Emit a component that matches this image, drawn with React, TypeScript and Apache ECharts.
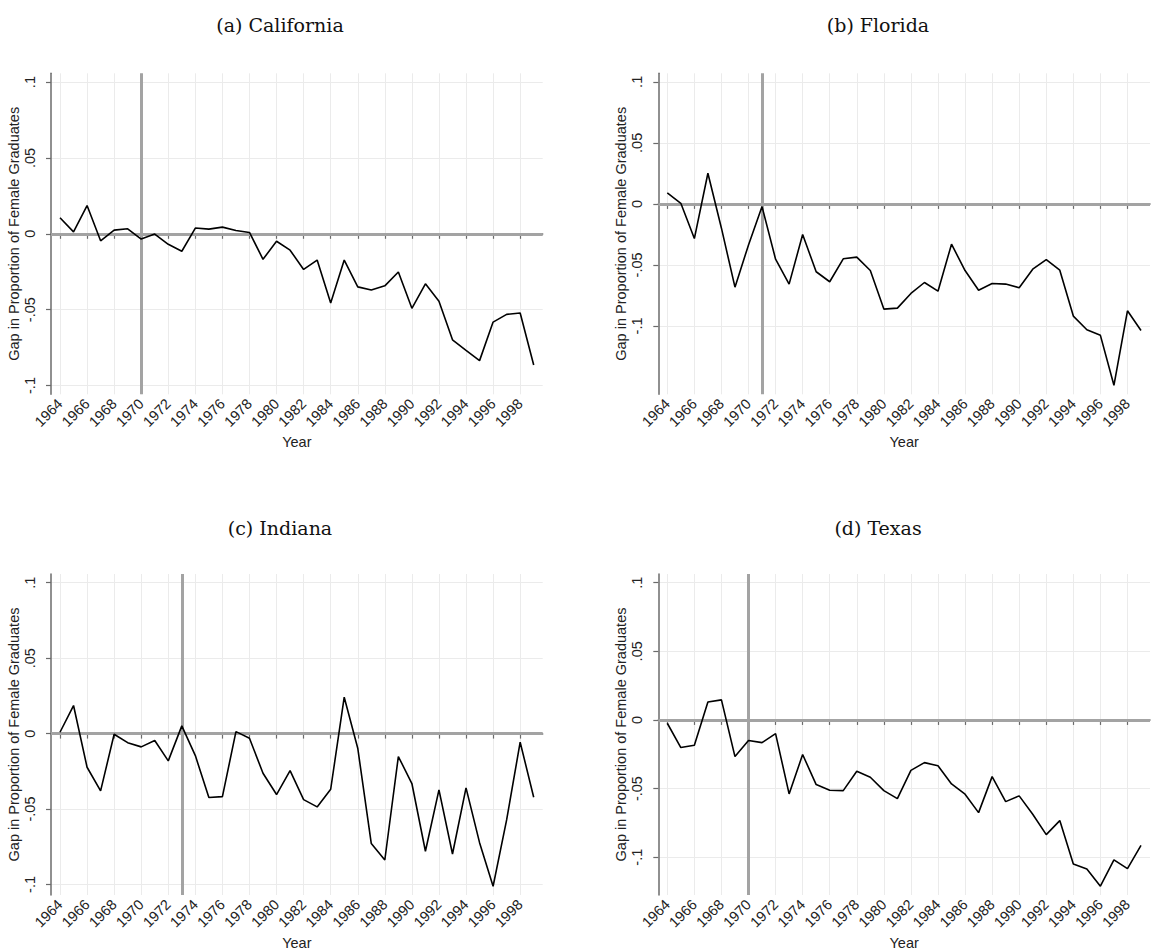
import React, { useEffect, useRef } from "react";
import * as echarts from "echarts";

const years = [
  1964, 1965, 1966, 1967, 1968, 1969, 1970, 1971, 1972, 1973, 1974, 1975,
  1976, 1977, 1978, 1979, 1980, 1981, 1982, 1983, 1984, 1985, 1986, 1987,
  1988, 1989, 1990, 1991, 1992, 1993, 1994, 1995, 1996, 1997, 1998, 1999,
];
const yearTicks = [
  1964, 1966, 1968, 1970, 1972, 1974, 1976, 1978, 1980, 1982, 1984, 1986,
  1988, 1990, 1992, 1994, 1996, 1998,
];
const gapTicks = [-0.1, -0.05, 0, 0.05, 0.1];
const gapTickLabels = ["-.1", "-.05", "0", ".05", ".1"];

const californiaGap = [
  0.0106, 0.0013, 0.0186, -0.0046, 0.0024, 0.0033, -0.0035, -0.0002, -0.0069,
  -0.0115, 0.0038, 0.0031, 0.0044, 0.0022, 0.0009, -0.0168, -0.0049, -0.0108,
  -0.0235, -0.0173, -0.0456, -0.0173, -0.035, -0.037, -0.0343, -0.0252,
  -0.0491, -0.033, -0.0445, -0.0699, -0.0768, -0.0836, -0.0582, -0.0531,
  -0.0522, -0.0865,
];
const floridaGap = [
  0.009, 0.0005, -0.0284, 0.0251, -0.0199, -0.0682, -0.0336, -0.0022, -0.0453,
  -0.0657, -0.0251, -0.0556, -0.0638, -0.045, -0.0436, -0.0546, -0.0862,
  -0.0854, -0.0734, -0.0644, -0.0715, -0.033, -0.0546, -0.0707, -0.0652,
  -0.0657, -0.0687, -0.0535, -0.0456, -0.0543, -0.0919, -0.1031, -0.1077,
  -0.1486, -0.0876, -0.1037,
];
const indianaGap = [
  0.0009, 0.0186, -0.0223, -0.038, -0.0004, -0.006, -0.0088, -0.0046, -0.0181,
  0.0051, -0.0146, -0.0424, -0.0418, 0.0013, -0.0031, -0.0263, -0.0404,
  -0.0245, -0.0438, -0.0486, -0.0369, 0.0241, -0.0097, -0.0729, -0.0838,
  -0.0152, -0.0331, -0.078, -0.0373, -0.0798, -0.036, -0.0723, -0.1012,
  -0.0572, -0.0057, -0.0422,
];
const texasGap = [
  -0.0024, -0.0201, -0.0184, 0.0131, 0.0146, -0.0267, -0.015, -0.0165, -0.01,
  -0.0539, -0.0252, -0.0471, -0.0512, -0.0515, -0.0374, -0.0417, -0.0515,
  -0.0573, -0.0367, -0.0311, -0.0333, -0.0466, -0.0541, -0.0675, -0.0413,
  -0.0595, -0.0553, -0.0687, -0.0835, -0.0733, -0.1049, -0.1085, -0.1211,
  -0.1019, -0.1083, -0.0913,
];

const panelTitles = ["(a) California", "(b) Florida", "(c) Indiana", "(d) Texas"];
const panelSeries = [californiaGap, floridaGap, indianaGap, texasGap];
const treatmentYears = [1970, 1971, 1973, 1970];
const yAxisTitle = "Gap in Proportion of Female Graduates";
const xAxisTitle = "Year";

// layout
const panelGrids = [
  { left: 51, top: 73.3, width: 491.7, height: 321 },
  { left: 658.3, top: 73.3, width: 491.7, height: 321 },
  { left: 51, top: 574, width: 491.7, height: 321.7 },
  { left: 658.3, top: 574, width: 491.7, height: 321.7 },
];
const panelYRange = [
  [-0.1058, 0.1058],
  [-0.156, 0.107],
  [-0.107, 0.1058],
  [-0.1275, 0.1063],
];
const titlePos = [
  [280, 25],
  [878, 25],
  [280, 528],
  [878, 528],
];

const SANS = "'Liberation Sans', Arial, sans-serif";
const SERIF = "'DejaVu Serif', serif";
const AXIS_COLOR = "#6b6b6b";
const GRID_COLOR = "#ebebeb";
const REF_COLOR = "#a3a3a3";

export default function App() {
  const ref = useRef<HTMLDivElement>(null);
  useEffect(() => {
    if (!ref.current) return;
    const chart = echarts.init(ref.current, null, { renderer: "svg" });
    const option: any = {
      animation: false,
      backgroundColor: "#ffffff",
      grid: panelGrids.map((g) => ({ ...g, containLabel: false })),
      xAxis: panelGrids.map((_, i) => ({
        type: "value",
        gridIndex: i,
        min: 1963.335,
        max: 1999.665,
        name: xAxisTitle,
        nameLocation: "middle",
        nameGap: 40,
        nameTextStyle: { fontFamily: SANS, fontSize: 14.5, color: "#222" },
        axisLine: { show: true, lineStyle: { color: AXIS_COLOR, width: 1.5 } },
        axisTick: {
          show: true,
          length: 5,
          customValues: yearTicks,
          lineStyle: { color: AXIS_COLOR, width: 1.2 },
        },
        axisLabel: {
          customValues: yearTicks,
          rotate: 45,
          margin: 7,
          fontFamily: SANS,
          fontSize: 14.5,
          color: "#222",
          formatter: (v: number) => String(v),
        },
        splitLine: { show: true, lineStyle: { color: GRID_COLOR, width: 1 } },
      })),
      yAxis: panelGrids.map((_, i) => ({
        type: "value",
        gridIndex: i,
        min: panelYRange[i][0],
        max: panelYRange[i][1],
        name: yAxisTitle,
        nameLocation: "middle",
        nameGap: 25,
        nameTextStyle: { fontFamily: SANS, fontSize: 14.5, color: "#222" },
        axisLine: { show: true, lineStyle: { color: AXIS_COLOR, width: 1.5 } },
        axisTick: {
          show: true,
          length: 5,
          customValues: gapTicks,
          lineStyle: { color: AXIS_COLOR, width: 1.2 },
        },
        axisLabel: {
          customValues: gapTicks,
          rotate: 90,
          margin: 14,
          fontFamily: SANS,
          fontSize: 14.5,
          color: "#222",
          formatter: (v: number) => {
            const k = gapTicks.findIndex((t) => Math.abs(t - v) < 1e-9);
            return k >= 0 ? gapTickLabels[k] : "";
          },
        },
        splitLine: { show: true, lineStyle: { color: GRID_COLOR, width: 1 } },
      })),
      series: panelSeries.map((vals, i) => ({
        type: "line",
        xAxisIndex: i,
        yAxisIndex: i,
        data: years.map((y, k) => [y, vals[k]]),
        showSymbol: false,
        symbol: "none",
        lineStyle: { color: "#000", width: 1.6 },
        z: 3,
        markLine: {
          silent: true,
          symbol: ["none", "none"],
          label: { show: false },
          lineStyle: { color: REF_COLOR, width: 3, type: "solid" },
          z: 2,
          data: [{ yAxis: 0 }, { xAxis: treatmentYears[i] }],
        },
      })),
      graphic: panelTitles.map((t, i) => ({
        type: "text",
        x: titlePos[i][0],
        y: titlePos[i][1],
        style: {
          text: t,
          fontFamily: SERIF,
          fontSize: 19,
          fill: "#111",
          textAlign: "center",
          textVerticalAlign: "middle",
        },
      })),
    };
    chart.setOption(option);
    return () => chart.dispose();
  }, []);
  return (
    <div
      ref={ref}
      style={{ position: "absolute", left: 0, top: 0, width: 1151, height: 951 }}
    />
  );
}
